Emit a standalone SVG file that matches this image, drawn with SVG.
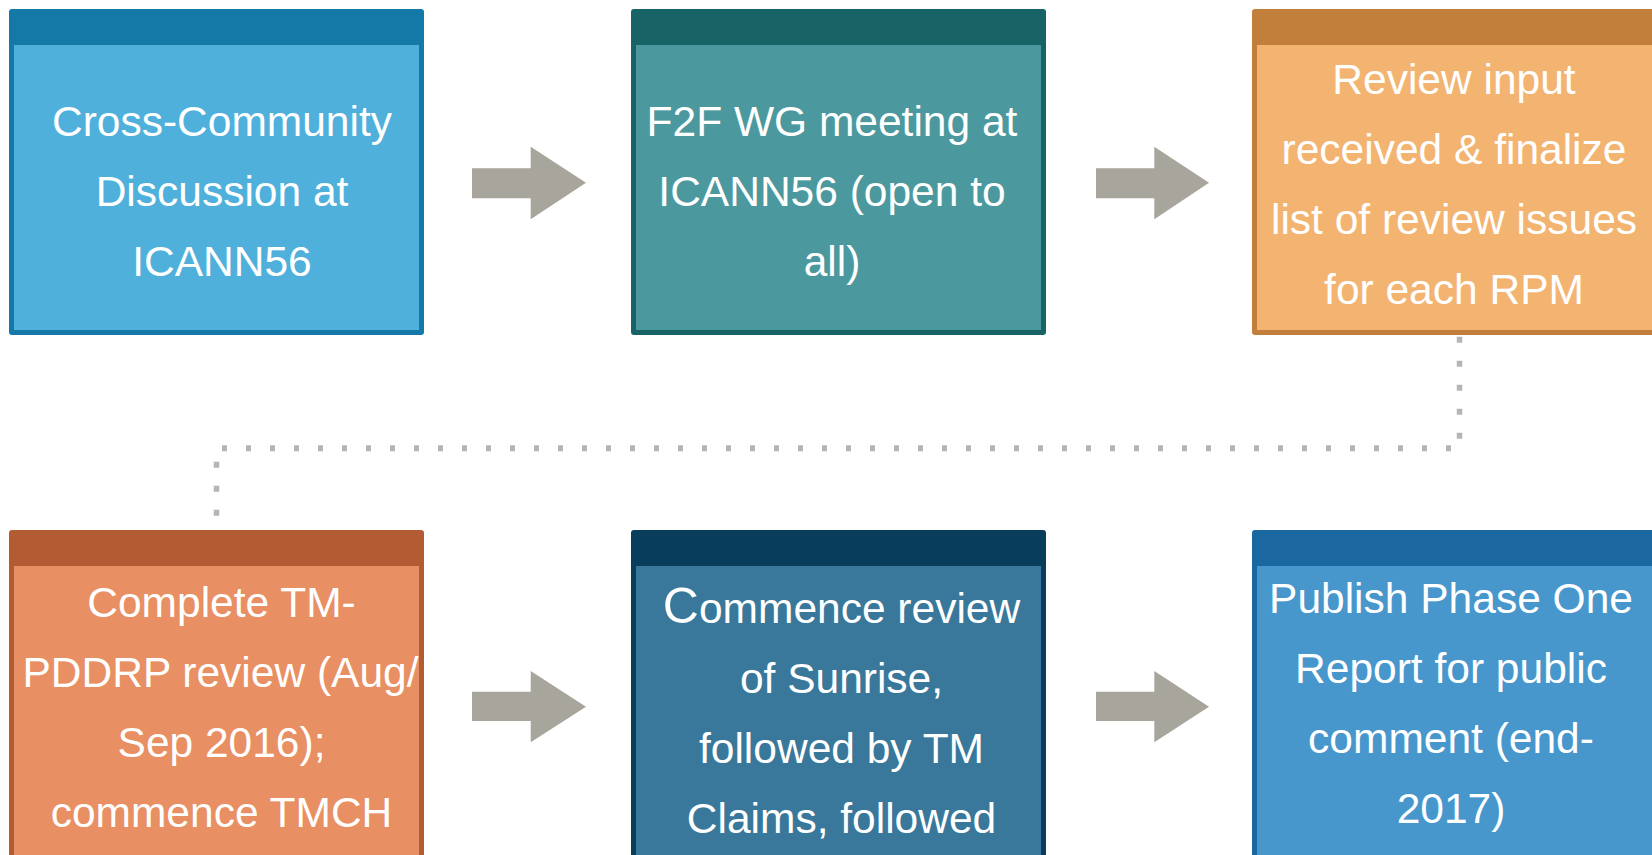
<svg xmlns="http://www.w3.org/2000/svg" width="1652" height="855" viewBox="0 0 1652 855">
<defs>
<style>
.t{font-family:"Liberation Sans",Arial,sans-serif;font-size:42.5px;fill:#ffffff;text-anchor:middle}
.arr{fill:#a8a59c}
.dot{fill:none;stroke:#b5b5b5}
</style>
</defs>
<rect width="1652" height="855" fill="#ffffff"/>
<g id="connectors">
<path class="dot" d="M1459.5,336.7 V442" stroke-width="5.5" stroke-dasharray="6 18"/>
<path class="dot" d="M1451,448.3 H218" stroke-width="6" stroke-dasharray="5 19"/>
<path class="dot" d="M216.5,461.7 V528" stroke-width="5.5" stroke-dasharray="6 18"/>
<path class="arr" d="M472,168.3 H530.7 V146.7 L586,182.7 L530.7,219.3 V198.3 H472 Z"/>
<path class="arr" d="M1096,168.3 H1154.3 V146.7 L1209,182.7 L1154.3,219.3 V198.3 H1096 Z"/>
<path class="arr" d="M472,691.7 H530.7 V671 L586,706.7 L530.7,742.3 V721 H472 Z"/>
<path class="arr" d="M1096,691.7 H1154.3 V671 L1209,706.7 L1154.3,742.3 V721 H1096 Z"/>
</g>
<g id="node1">
<rect x="9" y="9" width="415" height="326" rx="3" fill="#1479a6"/>
<rect x="14" y="45" width="405" height="285" fill="#4fb0dc"/>
<text class="t" x="222" y="135.5">Cross-Community</text>
<text class="t" x="222" y="205.5">Discussion at</text>
<text class="t" x="222" y="275.5">ICANN56</text>
</g>
<g id="node2">
<rect x="631" y="9" width="415" height="326" rx="3" fill="#176365"/>
<rect x="636" y="45" width="405" height="285" fill="#4b999e"/>
<text class="t" x="832" y="135.5">F2F WG meeting at</text>
<text class="t" x="832" y="205.5">ICANN56 (open to</text>
<text class="t" x="832" y="275.5">all)</text>
</g>
<g id="node3">
<rect x="1252" y="9" width="415" height="326" rx="3" fill="#c27f3b"/>
<rect x="1257" y="45" width="405" height="285" fill="#f3b472"/>
<text class="t" x="1454" y="93.5">Review input</text>
<text class="t" x="1454" y="163.5">received &amp; finalize</text>
<text class="t" x="1454" y="233.5">list of review issues</text>
<text class="t" x="1454" y="303.5">for each RPM</text>
</g>
<g id="node4">
<rect x="9" y="530" width="415" height="400" rx="3" fill="#b35c34"/>
<rect x="14" y="566" width="405" height="360" fill="#e88f64"/>
<text class="t" x="221.5" y="617">Complete TM-</text>
<text class="t" x="220.5" y="687">PDDRP review (Aug/</text>
<text class="t" x="221.5" y="757">Sep 2016);</text>
<text class="t" x="221.5" y="827">commence TMCH</text>
</g>
<g id="node5">
<rect x="631" y="530" width="415" height="400" rx="3" fill="#083d5c"/>
<rect x="636" y="566" width="405" height="360" fill="#39789a"/>
<text class="t" x="841.5" y="623"><tspan font-size="50">C</tspan>ommence review</text>
<text class="t" x="841.5" y="693">of Sunrise,</text>
<text class="t" x="841.5" y="763">followed by TM</text>
<text class="t" x="841.5" y="833">Claims, followed</text>
</g>
<g id="node6">
<rect x="1252" y="530" width="415" height="400" rx="3" fill="#1b68a0"/>
<rect x="1257" y="566" width="405" height="360" fill="#4797cd"/>
<text class="t" x="1451" y="613">Publish Phase One</text>
<text class="t" x="1451" y="683">Report for public</text>
<text class="t" x="1451" y="753">comment (end-</text>
<text class="t" x="1451" y="823">2017)</text>
</g>
</svg>
